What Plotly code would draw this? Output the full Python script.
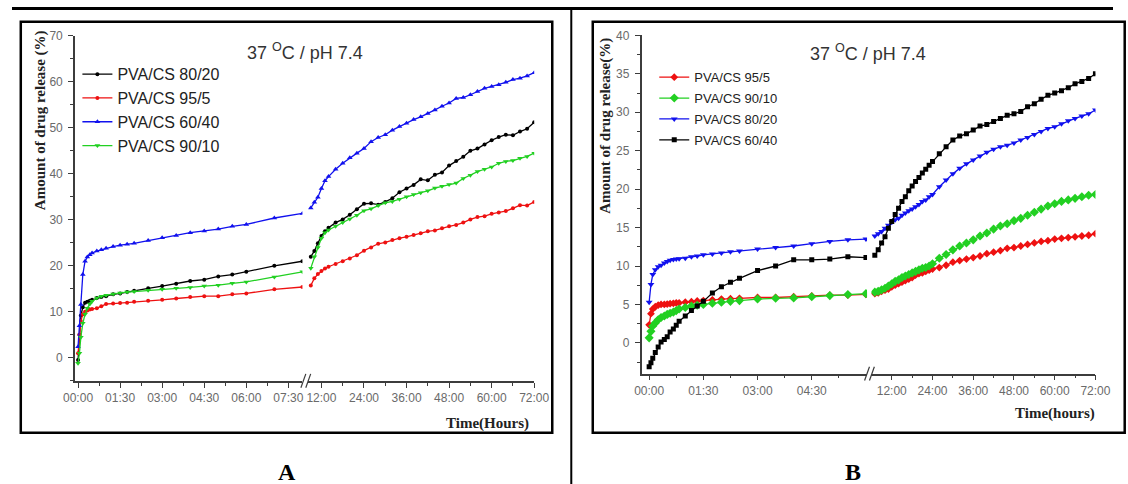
import plotly.graph_objects as go

W, H = 1128, 484

# ---- Panel A: PVA/CS films, release in hours ----
A_T_LEFT = [0, 0.05, 0.1, 0.17, 0.25, 0.33, 0.42, 0.5, 0.67, 0.83, 1.0, 1.25, 1.5,
            1.75, 2.0, 2.5, 3.0, 3.5, 4.0, 4.5, 5.0, 5.5, 6.0, 7.0, 8.0]
A_T_RIGHT = [9, 10, 11, 12, 13, 14, 16, 18, 20, 22, 24, 26, 28, 30, 32, 34, 36, 38,
             40, 42, 44, 46, 48, 50, 52, 54, 56, 58, 60, 62, 64, 66, 68, 70, 72]

A_8020_L = [-0.5, 5.0, 9.2, 11.0, 12.0, 12.2, 12.4, 12.6, 13.0, 13.2, 13.4, 13.8, 14.0,
            14.3, 14.6, 15.1, 15.6, 16.1, 16.7, 17.0, 17.7, 18.1, 18.7, 20.0, 21.0]
A_8020_R = [22.0, 23.2, 24.9, 26.5, 27.5, 28.3, 29.4, 30.1, 31.1, 32.3, 33.5, 33.6, 33.3,
            33.9, 34.7, 36.0, 36.8, 37.6, 38.8, 38.6, 39.8, 40.3, 41.8, 42.8, 43.7, 45.0,
            45.5, 46.4, 47.3, 48.0, 48.5, 48.4, 49.2, 49.8, 51.2]
A_955_L = [1.0, 5.0, 8.0, 9.5, 10.0, 10.3, 10.5, 10.6, 10.8, 11.2, 11.7, 11.8, 11.9,
           12.0, 12.2, 12.4, 12.6, 12.9, 13.2, 13.4, 13.4, 13.8, 14.0, 14.9, 15.4]
A_955_R = [15.7, 17.3, 18.2, 18.9, 19.4, 19.8, 20.4, 21.0, 21.6, 22.3, 23.3, 24.0, 24.8,
           25.1, 25.6, 26.0, 26.3, 26.7, 27.1, 27.5, 27.7, 28.2, 28.6, 28.9, 29.4, 30.1,
           30.6, 30.8, 31.3, 31.6, 31.9, 32.5, 33.2, 33.1, 33.9]
A_6040_L = [2.4, 7.0, 11.6, 18.1, 21.0, 21.9, 22.4, 22.8, 23.2, 23.5, 23.8, 24.2, 24.5,
            24.7, 24.9, 25.5, 26.1, 26.6, 27.2, 27.6, 28.0, 28.6, 29.0, 30.4, 31.4]
A_6040_R = [32.6, 33.8, 34.9, 36.8, 38.5, 39.4, 41.0, 42.3, 43.5, 44.5, 45.5, 47.0, 47.9,
            48.5, 49.5, 50.3, 51.0, 51.8, 52.4, 53.1, 53.9, 54.7, 55.4, 56.4, 56.6, 57.2,
            57.9, 58.6, 59.0, 59.4, 59.9, 60.5, 60.8, 61.3, 62.0]
A_9010_L = [-1.2, 1.0, 4.5, 7.5, 9.5, 10.8, 11.7, 12.3, 13.0, 13.4, 13.6, 13.9, 14.1,
            14.3, 14.4, 14.7, 14.9, 15.1, 15.3, 15.6, 15.8, 16.2, 16.5, 17.6, 18.7]
A_9010_R = [19.5, 22.0, 24.0, 26.0, 27.2, 27.8, 28.6, 29.4, 30.2, 31.0, 32.0, 32.4, 33.1,
            33.7, 34.0, 34.5, 35.0, 35.5, 35.9, 36.3, 36.9, 37.3, 37.7, 38.0, 39.0, 39.7,
            40.5, 41.0, 41.5, 42.3, 42.7, 42.9, 43.4, 43.8, 44.5]

# ---- Panel B ----
B_T_LEFT = [0, 0.05, 0.1, 0.17, 0.25, 0.33, 0.42, 0.5, 0.58, 0.67, 0.75, 0.83, 1.0,
            1.17, 1.33, 1.5, 1.75, 2.0, 2.25, 2.5, 3.0, 3.5, 4.0, 4.5, 5.0, 5.5, 6.0]
B_T_RIGHT = [7, 8, 9, 10, 11, 12, 13, 14, 15, 16, 17, 18, 19, 20, 21, 22, 23, 24,
             26, 28, 30, 32, 34, 36, 38, 40, 42, 44, 46, 48, 50, 52, 54, 56, 58, 60,
             62, 64, 66, 68, 70, 72]

B_955_L = [2.35, 3.8, 4.4, 4.7, 4.9, 5.0, 5.0, 5.05, 5.1, 5.15, 5.2, 5.2, 5.3, 5.35,
           5.45, 5.5, 5.6, 5.7, 5.75, 5.8, 5.9, 5.9, 6.0, 6.1, 6.2, 6.2, 6.3]
B_955_R = [6.4, 6.5, 6.7, 6.85, 7.0, 7.3, 7.5, 7.7, 7.9, 8.1, 8.3, 8.5, 8.8, 9.0, 9.1,
           9.3, 9.45, 9.6, 9.8, 10.1, 10.5, 10.7, 10.9, 11.1, 11.3, 11.6, 11.8, 12.0,
           12.3, 12.4, 12.6, 12.8, 13.0, 13.2, 13.3, 13.5, 13.6, 13.7, 13.8, 13.9, 14.0, 14.2]
B_9010_L = [0.65, 1.5, 2.2, 2.6, 3.0, 3.3, 3.5, 3.7, 3.85, 4.0, 4.2, 4.4, 4.6, 4.8, 4.9,
            5.0, 5.15, 5.3, 5.4, 5.5, 5.7, 5.8, 5.85, 6.0, 6.15, 6.3, 6.4]
B_9010_R = [6.6, 6.7, 6.9, 7.1, 7.4, 7.7, 8.0, 8.2, 8.5, 8.7, 8.9, 9.1, 9.3, 9.5, 9.7,
            9.8, 10.0, 10.3, 11.0, 11.5, 12.1, 12.6, 13.0, 13.4, 13.9, 14.3, 14.8, 15.2,
            15.5, 15.9, 16.2, 16.6, 17.0, 17.4, 17.8, 18.1, 18.4, 18.6, 18.8, 19.0, 19.2, 19.3]
B_8020_L = [5.3, 7.6, 8.9, 9.5, 9.9, 10.1, 10.4, 10.6, 10.75, 10.85, 10.9, 10.95, 11.0,
            11.2, 11.3, 11.45, 11.55, 11.7, 11.85, 11.95, 12.2, 12.4, 12.6, 12.9, 13.2,
            13.4, 13.5]
B_8020_R = [13.9, 14.2, 14.5, 14.9, 15.3, 15.7, 16.0, 16.2, 16.6, 16.9, 17.2, 17.4, 17.7,
            18.0, 18.4, 18.6, 19.0, 19.3, 20.3, 21.2, 22.0, 22.7, 23.3, 23.8, 24.3, 24.8,
            25.2, 25.5, 25.7, 26.0, 26.4, 26.7, 27.1, 27.5, 27.9, 28.1, 28.5, 28.9, 29.2,
            29.5, 29.8, 30.3]
B_6040_L = [-3.1, -2.6, -2.0, -1.25, -0.55, 0.1, 0.45, 0.8, 1.4, 1.8, 2.3, 2.8, 3.5, 4.2,
            4.8, 5.4, 6.5, 7.3, 7.9, 8.4, 9.4, 10.0, 10.8, 10.8, 10.9, 11.2, 11.1]
B_6040_R = [11.4, 12.1, 13.0, 13.8, 14.9, 15.8, 16.7, 17.5, 18.4, 19.0, 19.8, 20.4, 21.0,
            21.5, 22.1, 22.6, 23.1, 23.6, 24.6, 25.5, 26.4, 26.9, 27.2, 27.7, 28.2, 28.4,
            28.8, 29.2, 29.6, 29.8, 30.1, 30.7, 31.1, 31.7, 32.2, 32.5, 32.8, 33.2, 33.7,
            34.0, 34.4, 35.0]

# tick labels
SHORT_TICKS_A = [0, 1.5, 3, 4.5, 6, 7.5]
SHORT_LABELS_A = ["00:00", "01:30", "03:00", "04:30", "06:00", "07:30"]
SHORT_TICKS_B = [0, 1.5, 3, 4.5]
SHORT_LABELS_B = ["00:00", "01:30", "03:00", "04:30"]
LONG_TICKS = [12, 24, 36, 48, 60, 72]
LONG_LABELS = ["12:00", "24:00", "36:00", "48:00", "60:00", "72:00"]

BLACK, RED, BLUE, GREEN = "#000000", "#ee1111", "#1111ee", "#22d022"
SANS = "Liberation Sans, Arial, sans-serif"
SERIF = "Liberation Serif, Times New Roman, serif"
AXC = "#3c3c3c"
TICKC = "#6a6a6a"


def px(x):
    return x / W


def py(y):
    return 1 - y / H


fig = go.Figure()


def add_series(name, tl, vl, tr, vr, color, symbol, size, xl, xr, ya, legend):
    mk = dict(symbol=symbol, size=size, color=color, line=dict(width=0))
    ln = dict(color=color, width=1.3)
    fig.add_trace(go.Scatter(x=tl, y=vl, name=name, mode="lines+markers", line=ln,
                             marker=mk, xaxis=xl, yaxis=ya, legendgroup=legend + name,
                             legend=legend, showlegend=True))
    fig.add_trace(go.Scatter(x=tr, y=vr, name=name, mode="lines+markers", line=ln,
                             marker=mk, xaxis=xr, yaxis=ya, legendgroup=legend + name,
                             legend=legend, showlegend=False))


add_series("PVA/CS 80/20", A_T_LEFT, A_8020_L, A_T_RIGHT, A_8020_R, BLACK, "circle", 4, "x", "x2", "y", "legend")
add_series("PVA/CS 95/5", A_T_LEFT, A_955_L, A_T_RIGHT, A_955_R, RED, "circle", 4, "x", "x2", "y", "legend")
add_series("PVA/CS 60/40", A_T_LEFT, A_6040_L, A_T_RIGHT, A_6040_R, BLUE, "triangle-up", 5, "x", "x2", "y", "legend")
add_series("PVA/CS 90/10", A_T_LEFT, A_9010_L, A_T_RIGHT, A_9010_R, GREEN, "triangle-down", 5, "x", "x2", "y", "legend")

add_series("PVA/CS 95/5", B_T_LEFT, B_955_L, B_T_RIGHT, B_955_R, RED, "diamond", 6, "x3", "x4", "y2", "legend2")
add_series("PVA/CS 90/10", B_T_LEFT, B_9010_L, B_T_RIGHT, B_9010_R, GREEN, "diamond", 7, "x3", "x4", "y2", "legend2")
add_series("PVA/CS 80/20", B_T_LEFT, B_8020_L, B_T_RIGHT, B_8020_R, BLUE, "triangle-down", 6, "x3", "x4", "y2", "legend2")
add_series("PVA/CS 60/40", B_T_LEFT, B_6040_L, B_T_RIGHT, B_6040_R, BLACK, "square", 5, "x3", "x4", "y2", "legend2")


def xaxis(dom, rng, tv, tt, minor_vals, anchor):
    return dict(domain=[px(dom[0]), px(dom[1])], range=rng, anchor=anchor,
                tickmode="array", tickvals=tv, ticktext=tt,
                showline=True, linecolor=AXC, linewidth=1.5, mirror=False,
                ticks="outside", ticklen=5, tickwidth=1.2, tickcolor=AXC,
                minor=dict(tickmode="array", tickvals=minor_vals, ticks="outside",
                           ticklen=3, tickwidth=1, tickcolor=AXC),
                showgrid=False, zeroline=False,
                tickfont=dict(family=SANS, size=12, color=TICKC), ticklabelstandoff=0)


def yaxis(dom, rng, tv, minor_vals, anchor):
    return dict(domain=[py(dom[1]), py(dom[0])], range=rng, anchor=anchor,
                tickmode="array", tickvals=tv,
                showline=True, linecolor=AXC, linewidth=1.5,
                ticks="outside", ticklen=5, tickwidth=1.2, tickcolor=AXC,
                minor=dict(tickmode="array", tickvals=minor_vals, ticks="outside",
                           ticklen=3, tickwidth=1, tickcolor=AXC),
                showgrid=False, zeroline=False,
                tickfont=dict(family=SANS, size=12, color=TICKC), ticklabelstandoff=3)


fig.update_layout(
    width=W, height=H, autosize=False,
    margin=dict(l=0, r=0, t=0, b=0),
    paper_bgcolor="white", plot_bgcolor="rgba(0,0,0,0)",
    xaxis=xaxis((64.5, 297.5), [-0.11, 8.0], SHORT_TICKS_A, SHORT_LABELS_A,
                [0.75, 2.25, 3.75, 5.25, 6.75], "y"),
    xaxis2=xaxis((303.5, 535), [8.28, 72], LONG_TICKS, LONG_LABELS,
                 [18, 30, 42, 54, 66], "y"),
    yaxis=yaxis((29.3, 379.3), [-5, 70], list(range(0, 71, 10)),
                list(range(-5, 70, 10)), "x"),
    xaxis3=xaxis((645, 876), [-0.21, 6.03], SHORT_TICKS_B, SHORT_LABELS_B,
                 [0.75, 2.25, 3.75, 5.25], "y2"),
    xaxis4=xaxis((880.5, 1110), [6, 72], LONG_TICKS, LONG_LABELS,
                 [18, 30, 42, 54, 66], "y2"),
    yaxis2=yaxis((28.8, 372), [-4, 40], list(range(0, 41, 5)),
                 [v / 2 for v in range(-5, 80, 10)], "x3"),
    legend=dict(x=px(67), y=py(51), xanchor="left", yanchor="top",
                bgcolor="rgba(0,0,0,0)", borderwidth=0, traceorder="grouped",
                tracegroupgap=0, itemwidth=30,
                font=dict(family=SANS, size=16, color="#222222")),
    legend2=dict(x=px(658), y=py(56), xanchor="left", yanchor="top",
                 bgcolor="rgba(0,0,0,0)", borderwidth=0, traceorder="grouped",
                 tracegroupgap=1, itemwidth=30,
                 font=dict(family=SANS, size=13, color="#222222")),
    showlegend=True,
)

shapes = []
# page rules and panel frames
shapes.append(dict(type="rect", xref="paper", yref="paper", x0=0, x1=1, y0=py(3), y1=1,
                   fillcolor="black", line=dict(width=0)))
shapes.append(dict(type="line", xref="paper", yref="paper", x0=px(573), x1=px(573),
                   y0=0, y1=1, line=dict(color="black", width=2)))
shapes.append(dict(type="rect", xref="paper", yref="paper", x0=px(9), x1=px(553.5),
                   y0=py(432), y1=py(15), line=dict(color="black", width=2.5)))
shapes.append(dict(type="rect", xref="paper", yref="paper", x0=px(595), x1=px(1140),
                   y0=py(432), y1=py(15), line=dict(color="black", width=2.5)))
# axis break marks
for (bx, by) in [(296, 379.3), (873.5, 372)]:
    for dx in (0, 5):
        shapes.append(dict(type="line", xref="paper", yref="paper",
                           x0=px(bx + dx), y0=py(by + 7), x1=px(bx + dx + 5), y1=py(by - 7),
                           line=dict(color=AXC, width=1.2)))
fig.update_layout(shapes=shapes)


def label(text, x, y, family, size, color, angle=0):
    return dict(text=text, x=px(x), y=py(y), xref="paper", yref="paper",
                xanchor="center", yanchor="middle", textangle=angle, showarrow=False,
                font=dict(family=family, size=size, color=color))


title_txt = "37 <sup>O</sup>C / pH 7.4"
ann = [
    label(title_txt, 300, 45, SANS, 18, "#333333"),
    label(title_txt, 877, 46, SANS, 18, "#333333"),
    label("<b>Amount of drug release (%)</b>", 29.5, 115, SERIF, 15, "#222222", -90),
    label("<b>Amount of drug release(%)</b>", 608, 120, SERIF, 15, "#222222", -90),
    label("<b>Time(Hours)</b>", 487.5, 423, SERIF, 15, "#222222"),
    label("<b>Time(hours)</b>", 1069, 412, SERIF, 15, "#222222"),
    label("<b>A</b>", 282, 472, SERIF, 24, "black"),
    label("<b>B</b>", 862, 472, SERIF, 24, "black"),
]
fig.update_layout(annotations=ann)

# the page body keeps no default margin so the figure fills the window exactly
fig.write_html("out.html", post_script="document.body.style.margin='0px';")
